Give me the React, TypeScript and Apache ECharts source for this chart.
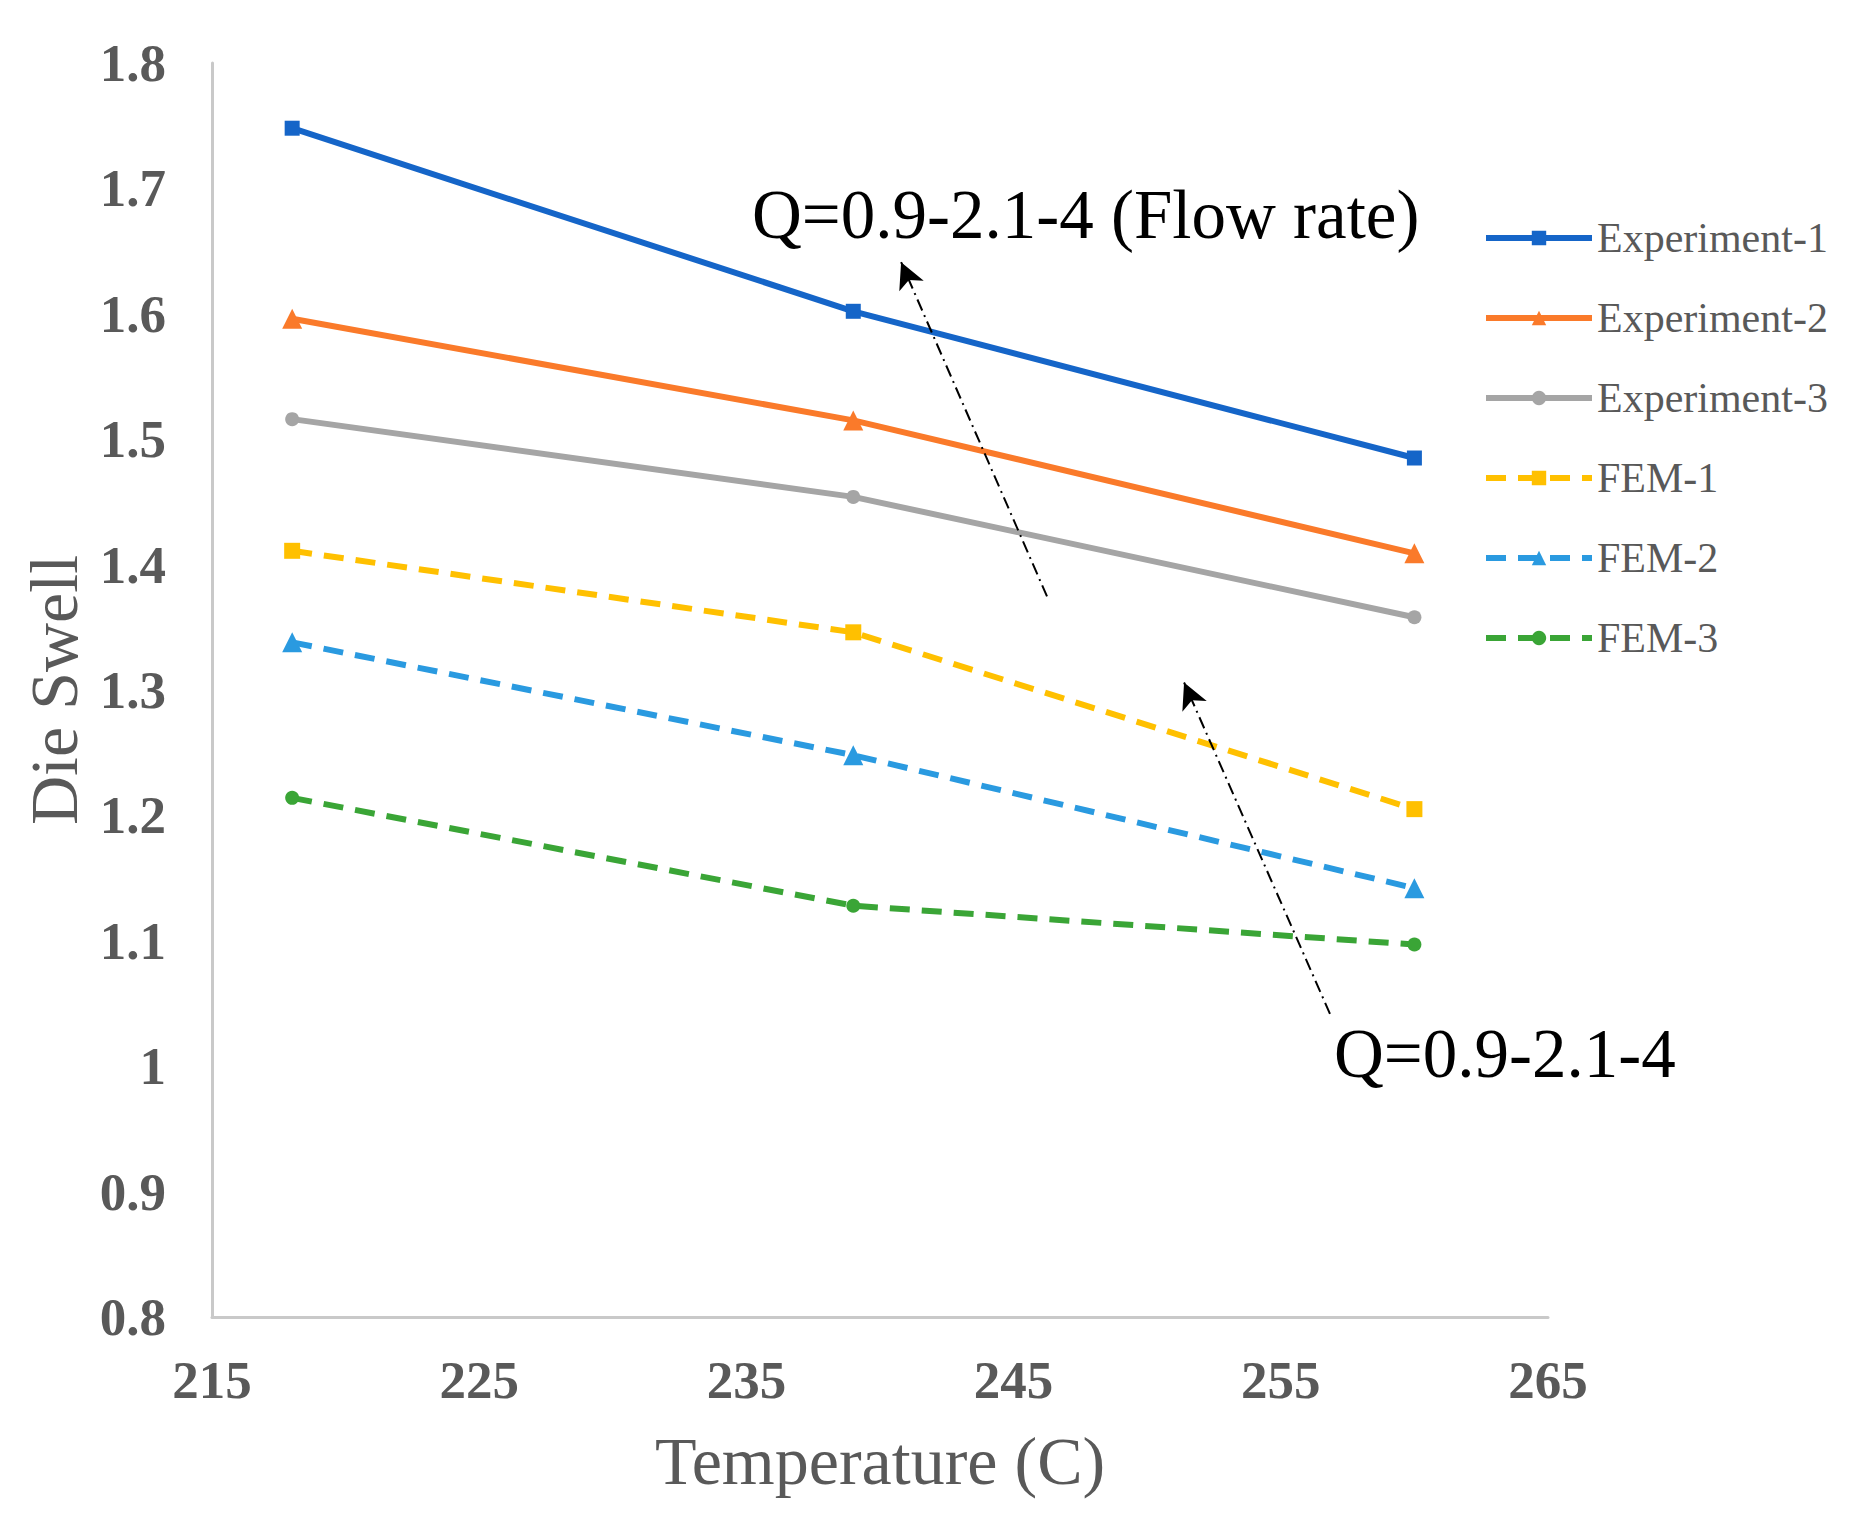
import React, { useEffect, useRef } from "react";
import * as echarts from "echarts";

const temperatures = [218, 239, 260];
const experiment1 = [1.748, 1.602, 1.485];
const experiment2 = [1.596, 1.515, 1.409];
const experiment3 = [1.516, 1.454, 1.358];
const fem1 = [1.411, 1.346, 1.205];
const fem2 = [1.338, 1.248, 1.142];
const fem3 = [1.214, 1.128, 1.097];

const seriesNames = ["Experiment-1", "Experiment-2", "Experiment-3", "FEM-1", "FEM-2", "FEM-3"];
const arrowUpper = [[246.25, 1.3746], [240.79, 1.6412]];
const arrowLower = [[256.84, 1.0418], [251.38, 1.306]];
const noteUpper = "Q=0.9-2.1-4 (Flow rate)";
const noteLower = "Q=0.9-2.1-4";

const FONT = "'Liberation Serif', 'Times New Roman', serif";

function pairs(values: number[]) {
  return temperatures.map((t, i) => [t, values[i]]);
}

export default function App() {
  const ref = useRef<HTMLDivElement>(null);
  useEffect(() => {
    if (!ref.current) return;
    const chart = echarts.init(ref.current, null, { renderer: "svg" });
    const mk = (
      name: string,
      values: number[],
      color: string,
      symbol: string,
      symbolSize: number,
      dashed: boolean,
      extra: any = {}
    ) => ({
      name,
      type: "line",
      data: pairs(values),
      symbol,
      symbolSize,
      showSymbol: true,
      itemStyle: { color },
      lineStyle: { color, width: 6, type: dashed ? [20, 12] : "solid" },
      z: 3,
      ...extra,
    });
    const arrowLine = (pts: number[][]) => [
      { coord: pts[0], symbol: "none" },
      { coord: pts[1], symbol: "arrow" },
    ];
    chart.setOption({
      animation: false,
      backgroundColor: "#ffffff",
      grid: { left: 212, top: 63, width: 1336, height: 1254, containLabel: false },
      xAxis: {
        type: "value",
        min: 215,
        max: 265,
        interval: 10,
        name: "Temperature (C)",
        nameLocation: "middle",
        nameGap: 110,
        nameTextStyle: { fontFamily: FONT, fontSize: 68, color: "#595959" },
        axisLine: { show: true, lineStyle: { color: "#c9c9c9", width: 3 } },
        axisTick: { show: false },
        splitLine: { show: false },
        axisLabel: {
          fontFamily: FONT,
          fontSize: 53,
          fontWeight: "bold",
          color: "#595959",
          margin: 36,
        },
      },
      yAxis: {
        type: "value",
        min: 0.8,
        max: 1.8,
        interval: 0.1,
        name: "Die Swell",
        nameLocation: "middle",
        nameGap: 124,
        nameRotate: 90,
        nameTextStyle: { fontFamily: FONT, fontSize: 68, color: "#595959" },
        axisLine: { show: true, lineStyle: { color: "#c9c9c9", width: 3 } },
        axisTick: { show: false },
        splitLine: { show: false },
        axisLabel: {
          fontFamily: FONT,
          fontSize: 53,
          fontWeight: "bold",
          color: "#595959",
          margin: 46,
          formatter: (v: number) => String(Math.round(v * 10) / 10),
        },
      },
      legend: {
        orient: "vertical",
        left: 1478,
        top: 212,
        itemWidth: 106,
        itemHeight: 18,
        itemGap: 38,
        data: seriesNames,
        lineStyle: { width: 6 },
        textStyle: { fontFamily: FONT, fontSize: 42, color: "#595959", lineHeight: 42 },
      },
      series: [
        mk(seriesNames[0], experiment1, "#1565c8", "rect", 15, false, {
          markLine: {
            silent: true,
            symbolSize: [20, 26],
            label: { show: false },
            lineStyle: { color: "#000000", width: 2, type: [12, 5, 2, 5] },
            data: [arrowLine(arrowUpper), arrowLine(arrowLower)],
          },
        }),
        mk(seriesNames[1], experiment2, "#fa7a2a", "triangle", 20, false),
        mk(seriesNames[2], experiment3, "#a5a5a5", "circle", 14, false),
        mk(seriesNames[3], fem1, "#ffc000", "rect", 16, true),
        mk(seriesNames[4], fem2, "#2a9ae0", "triangle", 20, true),
        mk(seriesNames[5], fem3, "#3aa536", "circle", 14, true),
      ],
      graphic: [
        {
          type: "text",
          left: 752,
          top: 218 - 38,
          style: { text: noteUpper, font: `69px ${FONT}`, fill: "#000000" },
        },
        {
          type: "text",
          left: 1334,
          top: 1057 - 38,
          style: { text: noteLower, font: `69px ${FONT}`, fill: "#000000" },
        },
      ],
    });
    return () => chart.dispose();
  }, []);
  return (
    <div
      ref={ref}
      style={{ position: "fixed", left: 0, top: 0, width: 1851, height: 1531, background: "#fff" }}
    />
  );
}
